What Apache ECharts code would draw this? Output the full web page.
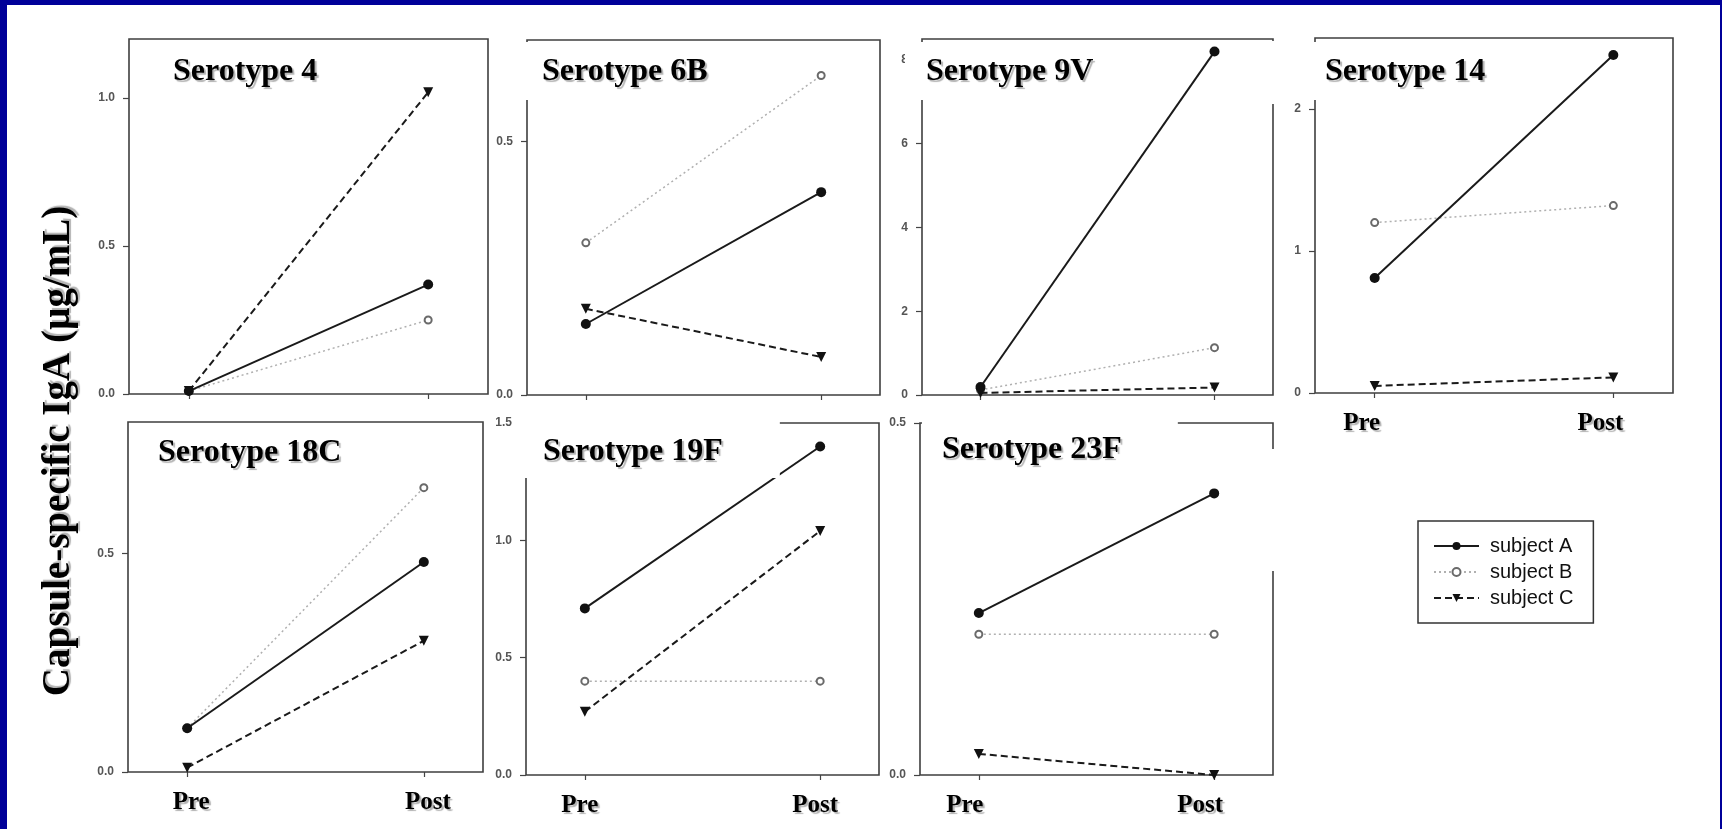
<!DOCTYPE html>
<html><head><meta charset="utf-8">
<script src="https://cdn.jsdelivr.net/npm/echarts@6/dist/echarts.min.js"></script>
<style>
html,body{margin:0;padding:0;width:1722px;height:829px;overflow:hidden;background:#000099;}
#paper{position:absolute;left:7px;top:5px;width:1713px;height:824px;background:#fff;}
#main{position:absolute;left:0;top:0;width:1722px;height:829px;}
</style></head><body>
<div id="paper"></div><div id="main"></div>
<script>
// ---- data ----
const phases = ['Pre', 'Post'];
const serotypes = ['Serotype 4', 'Serotype 6B', 'Serotype 9V', 'Serotype 14', 'Serotype 18C', 'Serotype 19F', 'Serotype 23F'];
const subjectNames = ['subject A', 'subject B', 'subject C'];
const subjectA = [[0.01, 0.37], [0.14, 0.40], [0.19, 8.2], [0.81, 2.38], [0.10, 0.48], [0.71, 1.40], [0.23, 0.40]];
const subjectB = [[0.01, 0.25], [0.30, 0.63], [0.12, 1.13], [1.20, 1.32], [0.10, 0.65], [0.40, 0.40], [0.20, 0.20]];
const subjectC = [[0.01, 1.02], [0.17, 0.075], [0.05, 0.18], [0.05, 0.11], [0.01, 0.30], [0.27, 1.04], [0.03, 0.0]];
const yTickLabels = [['0.0', '0.5', '1.0'], ['0.0', '0.5'], ['0', '2', '4', '6', '8'], ['0', '1', '2'], ['0.0', '0.5'], ['0.0', '0.5', '1.0', '1.5'], ['0.0', '0.5']];
const yMax = [1.2, 0.7, 8.5, 2.5, 0.8, 1.5, 0.5];
const yAxisTitle = 'Capsule-specific IgA (µg/mL)';

// ---- layout ----
const boxes = [
  {l: 129, t: 39, r: 488, b: 394},
  {l: 527, t: 40, r: 880, b: 395},
  {l: 922, t: 39, r: 1273, b: 395},
  {l: 1315, t: 38, r: 1673, b: 393},
  {l: 128, t: 422, r: 483, b: 772},
  {l: 526, t: 423, r: 879, b: 775},
  {l: 920, t: 423, r: 1273, b: 775}
];
const showX = [false, false, false, true, true, true, true];
const xLabelShift = [0, 0, 0, -13, 4, -5, -14];
const titleBoxes = [
  {left: 157, top: 42, pad: [14, 10, 12, 16]},
  {left: 522, top: 42, pad: [14, 10, 12, 20]},
  {left: 905, top: 42, pad: [14, 10, 12, 21]},
  {left: 1310, top: 42, pad: [14, 10, 12, 15]},
  {left: 142, top: 425, pad: [12, 10, 12, 16]},
  {left: 518, top: 420, pad: [16, 57, 10, 25]},
  {left: 922, top: 420, pad: [14, 56, 10, 20]}
];
const SERIF = '"Liberation Serif", "Times New Roman", serif';
const SANS = '"Liberation Sans", Arial, sans-serif';
const shadow = {textShadowColor: 'rgba(0,0,0,0.3)', textShadowOffsetX: 2, textShadowOffsetY: 2, textShadowBlur: 1};

const grid = [], xAxis = [], yAxis = [], series = [], title = [];
const styles = [
  {color: '#1a1a1a', width: 2, type: 'solid', symbol: 'circle', size: 10, rotate: 0},
  {color: '#b0b0b0', width: 1.5, type: [2, 3], symbol: 'emptyCircle', size: 7, rotate: 0},
  {color: '#1a1a1a', width: 2, type: [7, 4], symbol: 'triangle', size: 10, rotate: 180}
];
const subjects = [subjectA, subjectB, subjectC];

serotypes.forEach((name, i) => {
  const b = boxes[i];
  grid.push({left: b.l, top: b.t, width: b.r - b.l, height: b.b - b.t, show: true,
    borderColor: '#3f3f3f', borderWidth: 1.6, backgroundColor: 'transparent',
    containLabel: false, outerBoundsMode: 'none'});
  const sh = xLabelShift[i];
  xAxis.push({type: 'value', gridIndex: i, min: -0.25, max: 1.25,
    axisLine: {show: false, onZero: false}, splitLine: {show: false},
    axisTick: {show: true, customValues: [0, 1], length: 5, lineStyle: {color: '#444', width: 1.2}},
    axisLabel: {show: showX[i], customValues: [0, 1], margin: 18,
      padding: sh < 0 ? [0, -2 * sh, 0, 0] : [0, 0, 0, 2 * sh],
      formatter: v => phases[Math.round(v)] || '',
      fontFamily: SERIF, fontWeight: 'bold', fontSize: 25, color: '#000', ...shadow}});
  const tv = yTickLabels[i].map(Number);
  yAxis.push({type: 'value', gridIndex: i, min: 0, max: yMax[i],
    axisLine: {show: false, onZero: false}, splitLine: {show: false},
    axisTick: {show: true, customValues: tv, length: 6, lineStyle: {color: '#444', width: 1.2}},
    axisLabel: {show: true, customValues: tv, margin: 14,
      formatter: v => { const k = tv.findIndex(t => Math.abs(t - v) < 1e-9); return k >= 0 ? yTickLabels[i][k] : ''; },
      fontFamily: SANS, fontWeight: 'bold', fontSize: 12, color: '#555'}});
  subjects.forEach((arr, s) => {
    const st = styles[s];
    series.push({type: 'line', name: subjectNames[s], xAxisIndex: i, yAxisIndex: i,
      data: phases.map((p, j) => [j, arr[i][j]]),
      symbol: st.symbol, symbolSize: st.size, symbolRotate: st.rotate,
      lineStyle: {color: st.color, width: st.width, type: st.type},
      itemStyle: s === 1 ? {color: '#6a6a6a', borderWidth: 1.6} : {color: '#111'},
      z: s === 1 ? 2 : 3, clip: false, animation: false});
  });
  const tb = titleBoxes[i];
  title.push({text: name, left: tb.left, top: tb.top, padding: tb.pad, backgroundColor: '#fff',
    textStyle: {fontFamily: SERIF, fontWeight: 'bold', fontSize: 32, color: '#000', lineHeight: 32, ...shadow}});
});

const chart = echarts.init(document.getElementById('main'), null, {renderer: 'canvas'});
chart.setOption({
  backgroundColor: 'transparent',
  animation: false,
  title, grid, xAxis, yAxis, series,
  legend: {orient: 'vertical', left: 1418, top: 521, padding: [15, 20, 15, 15],
    itemWidth: 45, itemHeight: 10, itemGap: 6,
    borderColor: '#333', borderWidth: 1.5, backgroundColor: '#fff',
    data: subjectNames,
    textStyle: {fontFamily: SANS, fontSize: 20, color: '#111', padding: [0, 0, 0, 6]}},
  graphic: [
    {type: 'rect', z: 100, shape: {x: 1267, y: 41, width: 12, height: 63}, style: {fill: '#fff'}},
    {type: 'rect', z: 100, shape: {x: 1267, y: 449, width: 12, height: 122}, style: {fill: '#fff'}},
    {type: 'text', z: 100, x: 59, y: 451, rotation: Math.PI / 2,
      style: {text: yAxisTitle, font: 'bold 39px ' + SERIF, fill: '#000',
        align: 'center', verticalAlign: 'middle', textAlign: 'center', textVerticalAlign: 'middle',
        textShadowColor: 'rgba(0,0,0,0.3)', textShadowOffsetX: 2, textShadowOffsetY: -2, textShadowBlur: 1}}
  ]
});
</script>
</body></html>
